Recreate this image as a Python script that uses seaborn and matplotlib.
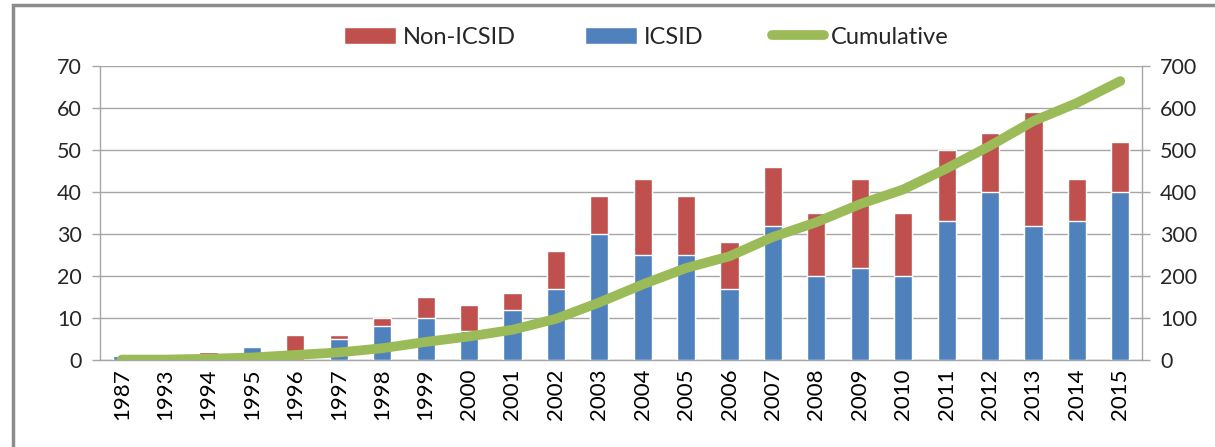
import numpy as np
import pandas as pd
import matplotlib
matplotlib.use("Agg")
import matplotlib.pyplot as plt
import seaborn as sns
from matplotlib.patches import Patch, Rectangle
from matplotlib.lines import Line2D

years = ["1987", "1993", "1994", "1995", "1996", "1997", "1998", "1999", "2000", "2001",
         "2002", "2003", "2004", "2005", "2006", "2007", "2008", "2009", "2010", "2011",
         "2012", "2013", "2014", "2015"]
icsid = [1, 0, 1, 3, 0, 5, 8, 10, 7, 12, 17, 30, 25, 25, 17, 32, 20, 22, 20, 33, 40, 32, 33, 40]
non_icsid = [0, 0, 1, 0, 6, 1, 2, 5, 6, 4, 9, 9, 18, 14, 11, 14, 15, 21, 15, 17, 14, 27, 10, 12]
cumulative = [1, 1, 3, 6, 12, 18, 28, 43, 56, 72, 98, 137, 180, 219, 247, 293, 328, 371, 406,
              456, 510, 569, 612, 664]

RED = "#C0504D"
BLUE = "#4F81BD"
GREEN = "#9BBB59"
GRID = "#A6A6A6"

sns.set_theme(style="white")
plt.rcParams["font.family"] = ["Lato", "DejaVu Sans"]

df = pd.DataFrame({"year": years, "ICSID": icsid, "Non-ICSID": non_icsid})
df["total"] = df["ICSID"] + df["Non-ICSID"]

fig = plt.figure(figsize=(12.15, 4.47), dpi=100)
ax = fig.add_axes([100 / 1215, 1 - 360 / 447, (1142 - 100) / 1215, (360 - 66) / 447])

sns.barplot(data=df, x="year", y="total", order=years, color=RED, width=0.42,
            saturation=1, ax=ax, zorder=2)
sns.barplot(data=df, x="year", y="ICSID", order=years, color=BLUE, width=0.42,
            saturation=1, ax=ax, zorder=3)

n = len(years)
ax.set_xlim(-0.5, n - 0.5)
ax.set_ylim(0, 70)
ax.set_yticks(range(0, 71, 10))
ax.yaxis.grid(True, color=GRID, linewidth=1.0)
ax.set_axisbelow(True)
ax.set_xlabel("")
ax.set_ylabel("")
ax.set_xticks(range(n))
ax.set_xticklabels(years, rotation=90)
ax.set_xticks(np.arange(-0.5, n, 1.0), minor=True)
ax.tick_params(axis="x", which="major", length=0, labelsize=16, pad=6, colors="black")
ax.tick_params(axis="x", which="minor", length=7, width=1, color=GRID, direction="out")
ax.tick_params(axis="y", length=6, width=1, color=GRID, labelsize=15.5, pad=7, direction="out", left=True)
for s in ["top", "right"]:
    ax.spines[s].set_visible(False)
for s in ["left", "bottom"]:
    ax.spines[s].set_color(GRID)
    ax.spines[s].set_linewidth(1.0)

ax2 = ax.twinx()
sns.lineplot(x=np.arange(n), y=cumulative, color=GREEN, linewidth=7, ax=ax2,
             solid_capstyle="round", zorder=5)
ax2.set_ylim(0, 700)
ax2.set_yticks(range(0, 701, 100))
ax2.set_xlim(-0.5, n - 0.5)
ax2.tick_params(axis="y", length=6, width=1, color=GRID, labelsize=15.5, pad=7, direction="out", right=True)
for s in ["top", "left", "bottom"]:
    ax2.spines[s].set_visible(False)
ax2.spines["right"].set_color(GRID)
ax2.spines["right"].set_linewidth(1.0)
ax2.set_ylabel("")

handles = [Patch(facecolor=RED, label="Non-ICSID"),
           Patch(facecolor=BLUE, label="ICSID"),
           Line2D([0], [0], color=GREEN, linewidth=7, solid_capstyle="round", label="Cumulative")]
fig.legend(handles=handles, loc="center", bbox_to_anchor=(0.532, 1 - 37 / 447), ncol=3,
           frameon=False, fontsize=17, handlelength=2.2, handletextpad=0.3, columnspacing=2.9)

fig.patches.append(Rectangle((13 / 1215, -0.1), 1.2, 1 - 5 / 447 + 0.1, transform=fig.transFigure,
                             fill=False, edgecolor="#8C8C8C", linewidth=2.5, zorder=-1))

fig.savefig("out.png", dpi=100)
